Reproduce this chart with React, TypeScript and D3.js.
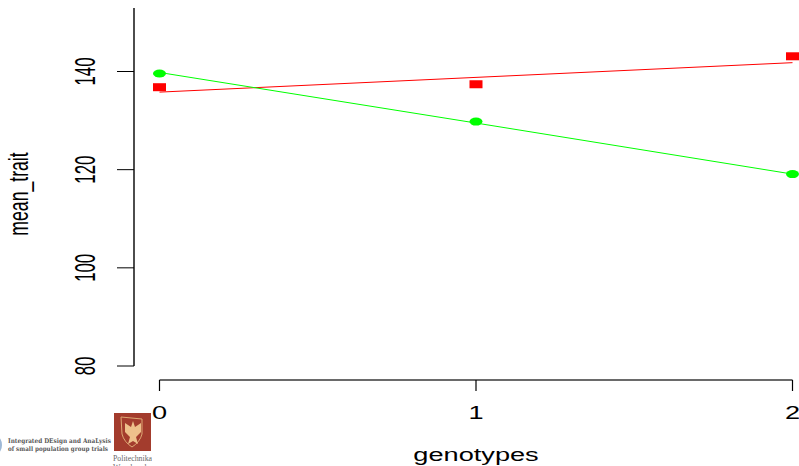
import React from 'react';
import * as d3 from 'd3';

const genotypes = [0, 1, 2];
const yTicks = [80, 100, 120, 140];
// group means (points)
const redMeans = [136.8, 137.4, 143.1];
const greenMeans = [139.6, 129.8, 119.1];
// fitted lines
const redFit = [135.8, 138.8, 141.8];
const greenFit = [139.8, 129.5, 119.1];

const width = 799;
const height = 466;

const xScale = d3.scaleLinear().domain([0, 2]).range([159.5, 792.5]);
const yScale = d3.scaleLinear().domain([80, 140]).range([366, 71.5]);

const fitLine = d3.line<number>()
    .x((d, i) => xScale(genotypes[i]))
    .y(d => yScale(d));

const sans = '"Liberation Sans", Arial, sans-serif';
const serif = '"Liberation Serif", serif';
const slab = '"DejaVu Serif", serif';

export default function App() {
    return (
        <svg width={width} height={height} style={{ position: 'absolute', left: 0, top: 0, display: 'block', background: '#fff' }}>
            {/* y axis */}
            <line x1={134} x2={134} y1={8} y2={yScale(80)} stroke="#000" strokeWidth={1.4} />
            {yTicks.map(t => (
                <g key={t} transform={`translate(0, ${yScale(t)})`}>
                    <line x1={117} x2={134} stroke="#000" strokeWidth={1} />
                    <text transform="translate(95, 0) rotate(-90) scale(0.56, 1)" textAnchor="middle" fontFamily={sans} fontSize={30} fill="#000">{t}</text>
                </g>
            ))}
            <text transform="translate(28, 194) rotate(-90) scale(0.63, 1)" textAnchor="middle" fontFamily={sans} fontSize={28} fill="#000">mean_trait</text>

            {/* x axis */}
            <line x1={xScale(0)} x2={xScale(2)} y1={380} y2={380} stroke="#6a6a6a" strokeWidth={2} />
            {genotypes.map(g => (
                <g key={g} transform={`translate(${xScale(g)}, 0)`}>
                    <line y1={380} y2={391} stroke="#000" strokeWidth={1.2} />
                    <text transform="translate(0, 418.5) scale(1.43, 1)" textAnchor="middle" fontFamily={sans} fontSize={19} fill="#000">{g}</text>
                </g>
            ))}
            <text transform="translate(476, 461) scale(1.43, 1)" textAnchor="middle" fontFamily={sans} fontSize={19} fill="#000">genotypes</text>

            {/* fitted lines */}
            <path d={fitLine(redFit) ?? ''} fill="none" stroke="#ff0000" strokeWidth={1} />
            <path d={fitLine(greenFit) ?? ''} fill="none" stroke="#00ff00" strokeWidth={1} />

            {/* means */}
            {redMeans.map((v, i) => (
                <rect key={i} x={xScale(genotypes[i]) - 6.5} y={yScale(v) - 4} width={13} height={8} fill="#ff0000" />
            ))}
            {greenMeans.map((v, i) => (
                <ellipse key={i} cx={xScale(genotypes[i])} cy={yScale(v)} rx={6.5} ry={4} fill="#00ff00" />
            ))}

            {/* footer logos, group opacity keeps the tiny text from colour fringing */}
            <g opacity={0.99}>
                <ellipse cx={-3} cy={445} rx={5} ry={8} fill="#9db8d6" />
                <text x={8} y={443} textLength={103} lengthAdjust="spacingAndGlyphs" fontFamily={slab} fontSize={6.4} fontWeight="bold" fill="#555">Integrated DEsign and AnaLysis</text>
                <text x={8} y={451} textLength={100} lengthAdjust="spacingAndGlyphs" fontFamily={slab} fontSize={6.4} fontWeight="bold" fill="#555">of small population group trials</text>
                <rect x={114} y={413} width={37} height={38} fill="#a23a2b" />
                <path d="M121 417 L142 419 L142 434 Q140 442 132 447 Q124 442 122 434 Z" fill="none" stroke="#dfa874" strokeWidth={1} />
                <path d="M133 421 L135 427 L141 423 L141 432 L136 437 L138 444 L133 441 L128 444 L130 437 L125 432 L125 423 L131 427 Z" fill="#eec08a" />
                <text x={113} y={461} textLength={39} lengthAdjust="spacingAndGlyphs" fontFamily={serif} fontSize={9} fill="#666">Politechnika</text>
                <text x={113} y={470} textLength={39} lengthAdjust="spacingAndGlyphs" fontFamily={serif} fontSize={9} fill="#666">Wrocławska</text>
            </g>
        </svg>
    );
}
